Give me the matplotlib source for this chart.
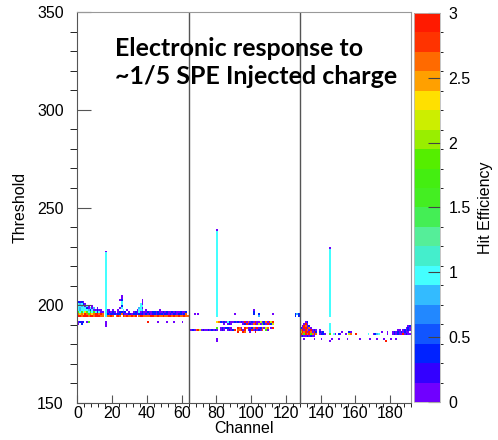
import numpy as np
import matplotlib.pyplot as plt
from matplotlib.colors import ListedColormap, BoundaryNorm

# Achsen
n_channels = 192
thr_min, thr_max = 150, 350
group_edges = [64, 128]

# Palette (20 Stufen, 0 -> 3)
palette = ['#7000ff', '#3300ff', '#0022ff', '#1155ff', '#2288ff',
           '#33bbff', '#44ffff', '#44eecc', '#55ee99', '#44ee55',
           '#44ee22', '#44ee11', '#55ee00', '#99ee00', '#ccee00',
           '#ffe000', '#ffa000', '#ff6a00', '#ff3300', '#ff1a00']

# Effizienz-Codes
eff_code = {'v': 0.07, 'p': 0.2, 'b': 0.4, 'B': 0.5, 'a': 0.75, 'c': 1.0,
            'g': 1.65, 'y': 2.15, 'Y': 2.3, 'o': 2.55, 'r': 2.9}

# Zellen: (Threshold, erster Kanal, Codes)
group1_runs = [
    (204, 25, "v"), (203, 25, "v"), (202, 24, "vb"), (202, 37, "v"),
    (201, 0, "bpbv"), (201, 25, "c"), (201, 37, "v"),
    (200, 0, "cacbv"), (200, 25, "c"), (200, 36, "cv"),
    (199, 0, "ccacvcv v"), (199, 25, "b"), (199, 36, "cc"),
    (198, 0, "cacccbvcva v"), (198, 24, "vc"), (198, 35, "acv"),
    (197, 0, "caccccabcvvbvv"), (197, 17, "vv v  v  c v     vcca v       v"),
    (196, 0, "gcgcYgcgcgcbcvv"),
    (196, 17, "vbvbv vbbvb v  vbvcvbvvbvvbbvbvvbvbvvbvbvvbvvb"),
    (195, 0, "oyoYrogoYorroro"),
    (195, 17, "bvbpbvbbobvvbpvbbvbpbvbvbvpbvbpbvbpvbvbpvbbvbo"),
    (194, 0, "rrorrrorrorrroo"),
    (194, 17, "ooro oro rorooror orroooorroorooroorroroorooroo"),
    (191, 0, "vbpb vg"), (191, 16, "v"), (191, 40, "r     v    v   v    v"),
    (190, 0, "v b"), (190, 16, "v"), (189, 16, "v"),
]

group2_runs = [
    (197, 101, "v"), (196, 101, "b"),
    (195, 67, "v v"), (195, 90, "v"), (195, 101, "b  b"), (195, 112, "v"),
    (195, 125, "bab"), (194, 104, "a"), (194, 125, "b b"),
    (191, 80, "Yo"), (191, 82, "bvbvcbvvbvbvbvrvovbvrvvyvbovryr"),
    (190, 84, "v vbv"), (190, 95, "vbrvbvorvyvgbvrvby"),
    (188, 80, "g"), (188, 82, "vbvbbvv"), (188, 92, "rov rovvbovrvbovyo vr"),
    (187, 64, "bvbvoryvbvvbvbvbv"), (187, 82, "vbv vbvbr oorvr vbrvbvbvo gv"),
    (186, 92, "r  ro  v  r"),
    (182, 80, "v"), (181, 80, "v"),
]

group3_runs = [
    (191, 131, "vb"), (190, 130, "vrv"),
    (189, 129, "vrovb"), (189, 190, "vb"),
    (188, 128, "bvrrvov"), (188, 189, "vbv"),
    (187, 128, "orvrovrvbv"), (187, 139, "v"), (187, 184, "vv vbvbv"),
    (186, 128, "yrorvrovrb"), (186, 139, "bvb"), (186, 152, "v   bv"),
    (186, 175, "v  v  vbvbvbvbvv"),
    (185, 128, "rogrorgovo"), (185, 139, "vbbv"),
    (185, 147, "cv bv  v yo  r      c  vbac    v  vbvbvvrvbvv"),
    (184, 128, "vbvvbvbvv"),
    (190, 145, "c"), (189, 145, "c"), (188, 145, "c"), (187, 145, "c"),
    (186, 145, "c"), (185, 145, "g"),
    (182, 130, "v     v   v     v   v    v      v     v   v   v   v  v"),
    (181, 145, "v"), (181, 177, "r"),
]

# Spikes bei Effizienz ~1
spike_ch = [16, 80, 145]
spike_low = [194, 194, 194]
spike_high = [227, 238, 229]

# Histogramm fuellen
H = np.full((thr_max - thr_min, n_channels), np.nan)
for runs in (group1_runs, group2_runs, group3_runs):
    for thr, ch0, codes in runs:
        for i, c in enumerate(codes):
            if c != ' ' and ch0 + i < n_channels:
                H[thr - thr_min, ch0 + i] = eff_code[c]
for ch, lo, hi in zip(spike_ch, spike_low, spike_high):
    H[lo - thr_min:hi - thr_min, ch] = eff_code['c']
    H[hi - thr_min, ch] = eff_code['v']

plt.rcParams['font.family'] = ['Liberation Sans', 'DejaVu Sans']
fig = plt.figure(figsize=(4.98, 4.40), dpi=100)
ax = fig.add_axes([0.1556, 0.0841, 0.6696, 0.8886])
cax = fig.add_axes([0.8313, 0.0864, 0.0522, 0.8841])

cmap = ListedColormap(palette)
norm = BoundaryNorm(np.linspace(0, 3, 21), cmap.N)
xe = np.arange(n_channels + 1)
ye = np.arange(thr_min, thr_max + 1)
mesh = ax.pcolormesh(xe, ye, np.ma.masked_invalid(H), cmap=cmap, norm=norm)

for g in group_edges:
    ax.axvline(g, color='#555555', lw=1)

ax.set_xlim(0, n_channels)
ax.set_ylim(thr_min, thr_max)
ax.set_xticks(np.arange(0, 181, 20))
ax.set_xticks(np.arange(0, 193, 4), minor=True)
ax.set_yticks(np.arange(150, 351, 50))
ax.set_yticks(np.arange(150, 351, 10), minor=True)
ax.tick_params(axis='both', direction='in', labelsize=11.5, colors='#555555',
               labelcolor='black', width=0.8)
ax.tick_params(axis='x', which='major', length=5.5, pad=2)
ax.tick_params(axis='x', which='minor', length=3)
ax.tick_params(axis='y', which='major', length=10, pad=10)
ax.tick_params(axis='y', which='minor', length=5)
for s in ['left', 'bottom']:
    ax.spines[s].set_color('#555555')
for s in ['top', 'right']:
    ax.spines[s].set_color('#999999')
ax.set_xlabel('Channel', fontsize=11.5, labelpad=0)
ax.set_ylabel('Threshold', fontsize=11.5, labelpad=7)

ax.text(0.112, 0.937, 'Electronic response to\n~1/5 SPE Injected charge',
        transform=ax.transAxes, ha='left', va='top', fontsize=18,
        fontweight='bold', family='Lato', linespacing=1.3)

cb = fig.colorbar(mesh, cax=cax, ticks=np.arange(0, 3.01, 0.5))
cb.ax.set_yticklabels(['0', '0.5', '1', '1.5', '2', '2.5', '3'])
cb.ax.tick_params(direction='in', length=9, width=0.8, colors='#444444',
                  labelcolor='black', labelsize=11.5, pad=6)
cb.outline.set_edgecolor('#bbbbbb')
cb.outline.set_linewidth(0.6)
cb.set_label('Hit Efficiency', fontsize=11.5, labelpad=5)

fig.savefig('out.png', dpi=100)
